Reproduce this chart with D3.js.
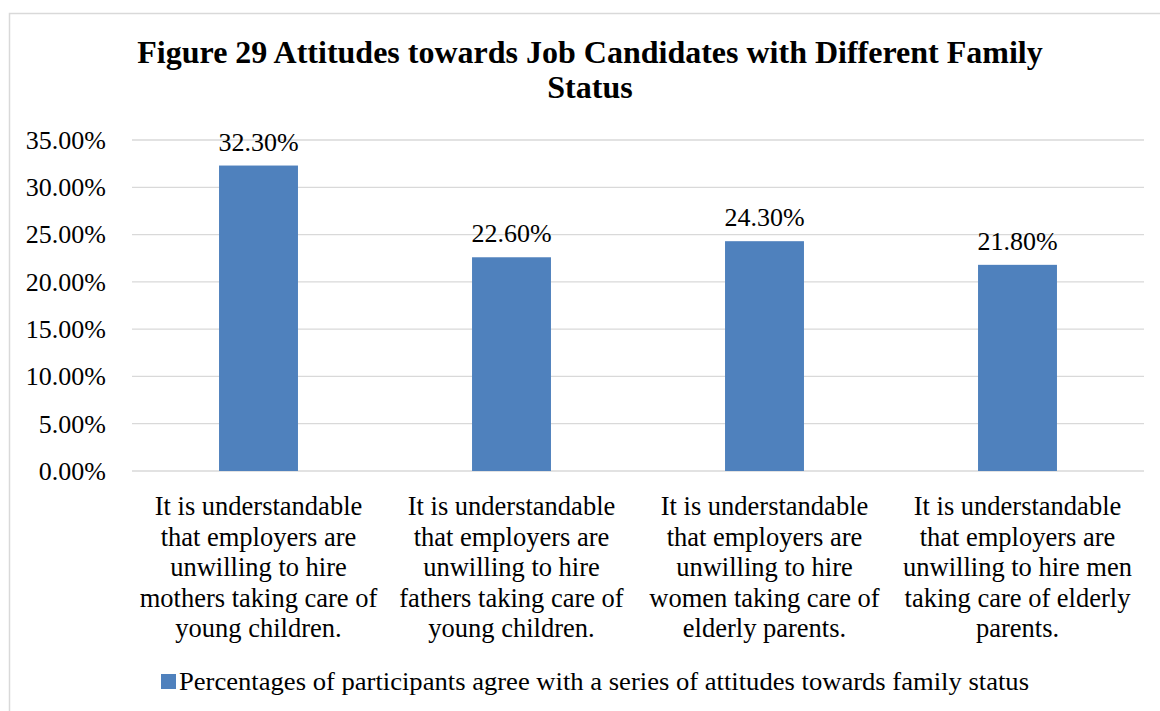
<!DOCTYPE html>
<html>
<head>
<meta charset="utf-8">
<script src="https://d3js.org/d3.v7.min.js"></script>
<style>
  body { margin: 0; background: #fff; }
  svg text { font-family: "Liberation Serif", "DejaVu Serif", serif; fill: #000; }
</style>
</head>
<body>
<div id="chart"></div>
<script>
// chart data
var categories = [
  ["It is understandable", "that employers are", "unwilling to hire", "mothers taking care of", "young children."],
  ["It is understandable", "that employers are", "unwilling to hire", "fathers taking care of", "young children."],
  ["It is understandable", "that employers are", "unwilling to hire", "women taking care of", "elderly parents."],
  ["It is understandable", "that employers are", "unwilling to hire men", "taking care of elderly", "parents."]
];
var values = [0.323, 0.226, 0.243, 0.218];
var yTicks = [0, 0.05, 0.10, 0.15, 0.20, 0.25, 0.30, 0.35];
var seriesName = "Percentages of participants agree with a series of attitudes towards family status";
var titleLines = ["Figure 29 Attitudes towards Job Candidates with Different Family", "Status"];

var W = 1160, H = 711;
var margin = {top: 140, right: 16, bottom: 240, left: 132},
    width = W - margin.left - margin.right,
    height = H - margin.top - margin.bottom;

var svg = d3.select("#chart")
  .append("svg")
    .attr("width", W)
    .attr("height", H);

// outer frame (top and left edges visible)
svg.append("path")
    .attr("d", "M9.5," + H + "V13.5H" + W)
    .attr("fill", "none")
    .attr("stroke", "#d9d9d9")
    .attr("stroke-width", 1.5);

// title
svg.append("g").selectAll("text")
    .data(titleLines)
    .enter().append("text")
    .attr("x", 590)
    .attr("y", function(d, i) { return 63 + i * 35; })
    .attr("text-anchor", "middle")
    .style("font-size", "32px")
    .style("font-weight", "bold")
    .text(function(d) { return d; });

var g = svg.append("g")
    .attr("transform", "translate(" + margin.left + "," + margin.top + ")");

var x = d3.scaleBand()
    .domain(d3.range(values.length))
    .range([0, width])
    .paddingInner(0.688)
    .paddingOuter(0.344);

var y = d3.scaleLinear()
    .domain([0, 0.35])
    .range([height, 0]);

// gridlines
g.append("g")
    .selectAll("line")
    .data(yTicks)
    .enter().append("line")
    .attr("x1", 0)
    .attr("x2", width)
    .attr("y1", function(d) { return y(d); })
    .attr("y2", function(d) { return y(d); })
    .attr("stroke", "#d9d9d9")
    .attr("stroke-width", 1.3);

// y axis
var yAxis = g.append("g")
    .call(d3.axisLeft(y).tickValues(yTicks).tickSize(0).tickPadding(26)
      .tickFormat(function(d) { return (d * 100).toFixed(2) + "%"; }));
yAxis.select(".domain").remove();
yAxis.attr("font-family", null).attr("font-size", null);
yAxis.selectAll("text")
    .style("font-size", "26px");

// bars
g.selectAll(".bar")
    .data(values)
    .enter().append("rect")
    .attr("class", "bar")
    .attr("x", function(d, i) { return x(i); })
    .attr("width", x.bandwidth())
    .attr("y", function(d) { return y(d); })
    .attr("height", function(d) { return height - y(d); })
    .attr("fill", "#4f81bd");

// value labels
g.selectAll(".val")
    .data(values)
    .enter().append("text")
    .attr("class", "val")
    .attr("x", function(d, i) { return x(i) + x.bandwidth() / 2; })
    .attr("y", function(d) { return y(d) - 15; })
    .attr("text-anchor", "middle")
    .style("font-size", "26px")
    .text(function(d) { return (d * 100).toFixed(2) + "%"; });

// category labels
var cat = g.selectAll(".cat")
    .data(categories)
    .enter().append("text")
    .attr("class", "cat")
    .attr("text-anchor", "middle")
    .style("font-size", "26.5px");
cat.selectAll("tspan")
    .data(function(d, i) { return d.map(function(s) { return {s: s, i: i}; }); })
    .enter().append("tspan")
    .attr("x", function(d) { return x(d.i) + x.bandwidth() / 2; })
    .attr("y", function(d, j) { return height + 44 + j * 30.5; })
    .text(function(d) { return d.s; });

// legend
var legend = svg.append("g").attr("transform", "translate(161,674)");
legend.append("rect")
    .attr("width", 15)
    .attr("height", 15)
    .attr("fill", "#4f81bd");
legend.append("text")
    .attr("x", 18)
    .attr("y", 16)
    .attr("textLength", 850)
    .attr("lengthAdjust", "spacingAndGlyphs")
    .style("font-size", "26px")
    .text(seriesName);
</script>
</body>
</html>
